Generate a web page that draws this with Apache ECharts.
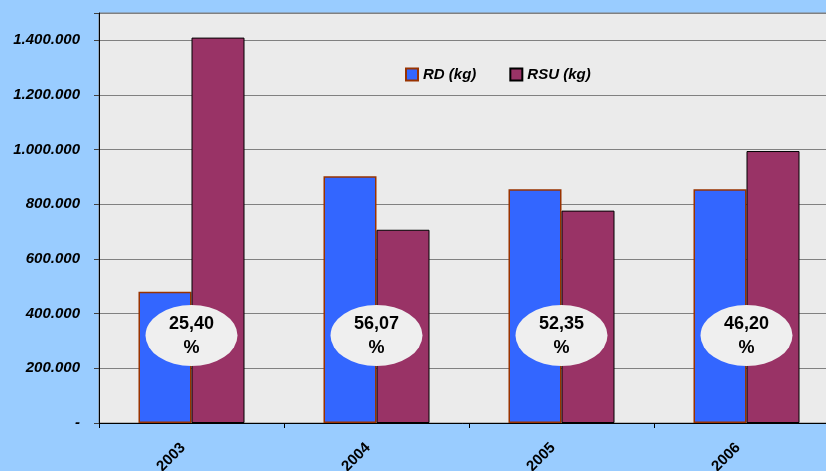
<!DOCTYPE html>
<html>
<head>
<meta charset="utf-8">
<script src="https://cdn.jsdelivr.net/npm/echarts@6/dist/echarts.min.js"></script>
<style>
  html, body { margin: 0; padding: 0; background: #99ccff; }
  #chart { width: 826px; height: 471px; }
</style>
</head>
<body>
<div id="chart"></div>
<script>
const years = ['2003', '2004', '2005', '2006'];
const rdValues = [480000, 903000, 855000, 855000];
const rsuValues = [1410000, 707000, 777000, 995000];
const pctLabels = ['25,40', '56,07', '52,35', '46,20'];
const yTickLabels = ['-', '200.000', '400.000', '600.000', '800.000', '1.000.000', '1.200.000', '1.400.000'];
// altura a la que van las elipses de porcentaje
const ellipseLevel = years.map(() => 320000);

const font = 'Arial, "Liberation Sans", sans-serif';
const chart = echarts.init(document.getElementById('chart'));

chart.setOption({
  backgroundColor: '#99ccff',
  animation: false,
  grid: {
    left: 99, top: 13, width: 740, height: 410,
    outerBoundsMode: 'none', containLabel: false,
    show: true, backgroundColor: '#ebebeb', borderColor: '#808080', borderWidth: 1
  },
  legend: {
    data: ['RD (kg)', 'RSU (kg)'],
    left: 400, top: 62,
    icon: 'rect', itemWidth: 12, itemHeight: 12, itemGap: 33,
    textStyle: { fontFamily: font, fontSize: 15, fontWeight: 'bold', fontStyle: 'italic', color: '#000' }
  },
  xAxis: {
    type: 'category',
    data: years,
    axisLine: { lineStyle: { color: '#000', width: 1 } },
    axisTick: { show: true, length: 5, lineStyle: { color: '#000' } },
    axisLabel: {
      rotate: 45, margin: 14, interval: 0, padding: [0, 12, 0, 0],
      fontFamily: font, fontSize: 15, fontWeight: 'bold', color: '#000'
    }
  },
  yAxis: {
    type: 'value',
    min: 0, max: 1500000, interval: 200000,
    axisLine: { show: true, lineStyle: { color: '#000', width: 1 } },
    axisTick: { show: true, length: 5, lineStyle: { color: '#404040' } },
    splitLine: { lineStyle: { color: '#808080', width: 1 } },
    axisLabel: {
      margin: 19,
      fontFamily: font, fontSize: 15, fontWeight: 'bold', fontStyle: 'italic', color: '#000',
      formatter: v => yTickLabels[Math.round(v / 200000)] || ''
    }
  },
  series: [
    {
      name: 'RD (kg)', type: 'bar', data: rdValues,
      barGap: '0%', barCategoryGap: '42.7%',
      itemStyle: { color: '#3366ff', borderColor: '#993300', borderWidth: 1.5 }
    },
    {
      name: 'RSU (kg)', type: 'bar', data: rsuValues,
      itemStyle: { color: '#993366', borderColor: '#000', borderWidth: 1 }
    },
    {
      name: 'pct', type: 'scatter', data: ellipseLevel, z: 5,
      symbol: 'circle', symbolSize: [92, 61],
      itemStyle: { color: '#efefef', opacity: 1 },
      label: {
        show: true, position: 'inside',
        formatter: p => pctLabels[p.dataIndex] + '\n%',
        fontFamily: font, fontSize: 18, fontWeight: 'bold', color: '#000', lineHeight: 24
      }
    }
  ]
});
</script>
</body>
</html>
